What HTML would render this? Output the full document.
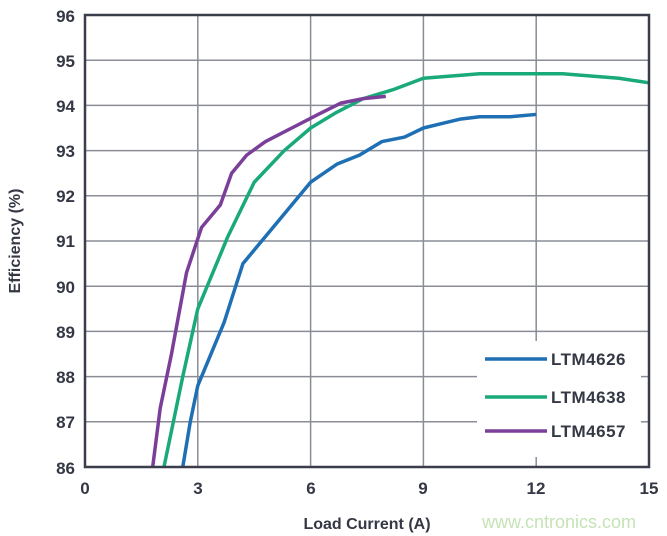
<!DOCTYPE html>
<html><head><style>
html,body{margin:0;padding:0;background:#fff;}
svg{display:block;}
.t{font-family:"Liberation Sans",sans-serif;font-weight:bold;fill:#343844;font-size:17px;}
</style></head><body>
<svg width="667" height="536" viewBox="0 0 667 536" xmlns="http://www.w3.org/2000/svg">
<g stroke="#8a8d96" stroke-width="1.5">
<line x1="85" x2="649" y1="60.2" y2="60.2"/>
<line x1="85" x2="649" y1="105.4" y2="105.4"/>
<line x1="85" x2="649" y1="150.6" y2="150.6"/>
<line x1="85" x2="649" y1="195.8" y2="195.8"/>
<line x1="85" x2="649" y1="241" y2="241"/>
<line x1="85" x2="649" y1="286.2" y2="286.2"/>
<line x1="85" x2="649" y1="331.4" y2="331.4"/>
<line x1="85" x2="477" y1="376.6" y2="376.6"/>
<line x1="85" x2="477" y1="421.8" y2="421.8"/>
<line x1="641" x2="649" y1="376.6" y2="376.6"/>
<line x1="641" x2="649" y1="421.8" y2="421.8"/>
<line x1="197.8" x2="197.8" y1="15" y2="467"/>
<line x1="310.6" x2="310.6" y1="15" y2="467"/>
<line x1="423.4" x2="423.4" y1="15" y2="467"/>
<line x1="536.2" x2="536.2" y1="15" y2="341"/>
<line x1="536.2" x2="536.2" y1="457" y2="467"/>
</g>
<g fill="none" stroke-width="3.5" stroke-linejoin="round" stroke-linecap="butt" transform="matrix(37.6 0 0 -45.2 85 4354.2)">
<polyline vector-effect="non-scaling-stroke" stroke="#1f6fb5" points="2.6,86 2.8,87 3.0,87.8 3.3,88.4 3.7,89.2 4.2,90.5 4.8,91.1 5.4,91.7 6,92.3 6.7,92.7 7.3,92.9 7.9,93.2 8.5,93.3 9,93.5 9.5,93.6 10,93.7 10.5,93.75 11.3,93.75 12,93.8"/>
<polyline vector-effect="non-scaling-stroke" stroke="#1aaa7a" points="2.1,86 2.3,86.8 2.6,88 3,89.5 3.5,90.5 3.8,91.1 4.5,92.3 5.3,93 6,93.5 6.7,93.85 7.4,94.15 8.2,94.35 9,94.6 10.5,94.7 12.7,94.7 14.2,94.6 15,94.5"/>
<polyline vector-effect="non-scaling-stroke" stroke="#7b3f99" points="1.8,86 2.0,87.3 2.3,88.5 2.7,90.3 3.1,91.3 3.6,91.8 3.9,92.5 4.3,92.9 4.8,93.2 5.5,93.5 6.2,93.8 6.8,94.05 7.4,94.15 8,94.2"/>
</g>
<rect x="85" y="15" width="564" height="452" fill="none" stroke="#3a3d4a" stroke-width="2.5"/>
<g stroke-width="3.5">
<line x1="485" x2="547" y1="359" y2="359" stroke="#1f6fb5"/>
<line x1="485" x2="547" y1="397" y2="397" stroke="#1aaa7a"/>
<line x1="485" x2="547" y1="431" y2="431" stroke="#7b3f99"/>
</g>
<g class="t" font-size="17" letter-spacing="0.5">
<text x="551" y="365">LTM4626</text>
<text x="551" y="403">LTM4638</text>
<text x="551" y="437">LTM4657</text>
</g>
<g class="t" text-anchor="end">
<text x="75" y="22">96</text><text x="75" y="67">95</text><text x="75" y="112">94</text>
<text x="75" y="157">93</text><text x="75" y="202">92</text><text x="75" y="247">91</text>
<text x="75" y="293">90</text><text x="75" y="338">89</text><text x="75" y="383">88</text>
<text x="75" y="428">87</text><text x="75" y="474">86</text>
</g>
<g class="t" text-anchor="middle">
<text x="85" y="494">0</text><text x="198" y="494">3</text><text x="311" y="494">6</text>
<text x="423" y="494">9</text><text x="536" y="494">12</text><text x="649" y="494">15</text>
<text x="367" y="529" font-size="16">Load Current (A)</text>
<text transform="translate(20,241) rotate(-90)" font-size="16">Efficiency (%)</text>
</g>
<text x="482" y="528" font-family="Liberation Sans,sans-serif" font-size="18" fill="#c5e3b5">www.cntronics.com</text>
</svg>
</body></html>
